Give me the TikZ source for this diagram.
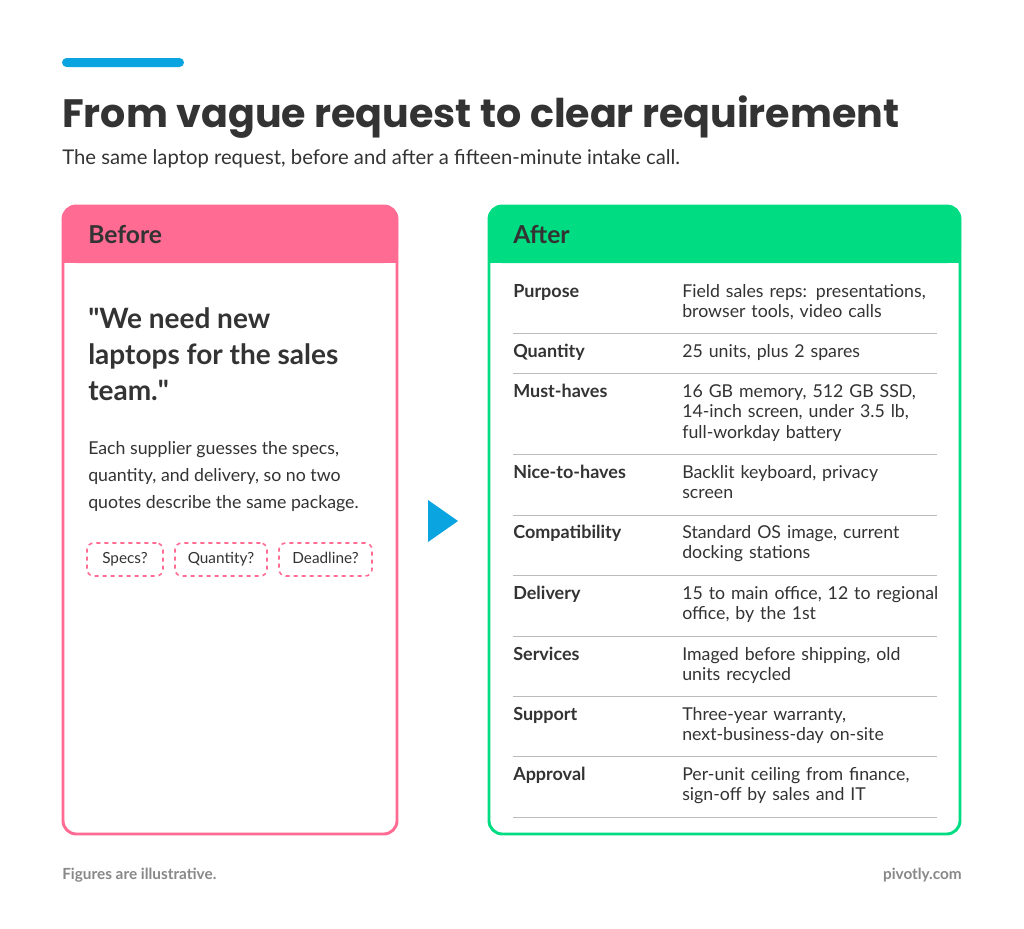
\documentclass[tikz,border=0pt]{standalone}
\usepackage{fontspec}
\setmainfont{Lato}
\newfontfamily\qfont{Lato}[Ligatures=ResetAll]
\newfontfamily\titlefont{Poppins}
\definecolor{ink}{HTML}{333333}
\definecolor{blueb}{HTML}{0AA5E0}
\definecolor{pinkb}{HTML}{FF6B93}
\definecolor{greenb}{HTML}{00DC82}
\definecolor{grayt}{HTML}{888888}
\definecolor{rule}{HTML}{BBBBBB}
\begin{document}
\begin{tikzpicture}[x=0.75pt,y=-0.75pt,
  lab/.style={anchor=north west,inner sep=0,text=ink,font=\fontsize{13.5}{15.4}\selectfont\bfseries},
  val/.style={anchor=north west,inner sep=0,text=ink,font=\fontsize{13.3}{15.4}\selectfont,align=left,text width=300},
  tag/.style={draw=pinkb,dashed,line width=1.2pt,rounded corners=5pt,text=ink,font=\fontsize{11.5}{12}\selectfont,minimum height=33*0.75pt,inner sep=0},
  sep/.style={draw=rule,line width=0.75pt}]
\useasboundingbox (0,0) rectangle (1024,928);
\fill[white] (0,0) rectangle (1024,928);
\fill[blueb,rounded corners=3.4pt] (62,58) rectangle (184,67);
\node[anchor=base west,inner sep=0,text=ink,font=\titlefont\fontsize{29.7}{32}\selectfont\bfseries] (title) at (62,127) {From vague request to clear requirement};
\node[anchor=base west,inner sep=0,text=ink,font=\fontsize{15.2}{16}\selectfont] (sub) at (62,164) {The same laptop request, before and after a fifteen-minute intake call.};
% Before
\fill[pinkb,rounded corners=10pt] (62,205) rectangle (398,263);
\fill[pinkb] (62,245) rectangle (398,263);
\draw[pinkb,line width=2.2pt,rounded corners=10pt] (63,206) rectangle (397,834);
\node[anchor=west,inner sep=0,text=ink,font=\fontsize{18.5}{18}\selectfont\bfseries] (bh) at (88,235) {Before};
\node[anchor=north west,inner sep=0,text=ink,font=\fontsize{21}{27}\selectfont\bfseries,align=left] (quote) at (88,307) {{\qfont\bfseries"}We need new\\laptops for the sales\\team.{\qfont\bfseries"}};
\node[anchor=north west,inner sep=0,text=ink,font=\fontsize{13.3}{20.3}\selectfont,align=left] (para) at (88,441) {Each supplier guesses the specs,\\quantity, and delivery, so no two\\quotes describe the same package.};
\node[tag,minimum width=76*0.75pt] (t1) at (125,559.5) {Specs?\vphantom{Qy}};
\node[tag,minimum width=92*0.75pt] (t2) at (221,559.5) {Quantity?};
\node[tag,minimum width=93*0.75pt] (t3) at (325.5,559.5) {Deadline?\vphantom{Qy}};
% arrow
\fill[blueb] (428,500) -- (458,521) -- (428,542) -- cycle;
% After
\fill[greenb,rounded corners=10pt] (488,205) rectangle (961,263);
\fill[greenb] (488,245) rectangle (961,263);
\draw[greenb,line width=2.2pt,rounded corners=10pt] (489,206) rectangle (960,834);
\node[anchor=west,inner sep=0,text=ink,font=\fontsize{18.5}{18}\selectfont\bfseries] (ah) at (513,235) {After};
\foreach \y/\l/\v in {
 284/Purpose/{Field sales reps: presentations,\\browser tools, video calls},
 344/Quantity/{25 units, plus 2 spares},
 384/Must-haves/{16 GB memory, 512 GB SSD,\\14-inch screen, under 3.5 lb,\\full-workday battery},
 465/Nice-to-haves/{Backlit keyboard, privacy\\screen},
 525/Compatibility/{Standard OS image, current\\docking stations},
 586/Delivery/{15 to main office, 12 to regional\\office, by the 1st},
 647/Services/{Imaged before shipping, old\\units recycled},
 707/Support/{Three-year warranty,\\next-business-day on-site},
 767/Approval/{Per-unit ceiling from finance,\\sign-off by sales and IT}}
{\node[lab] at (513,\y) {\l}; \node[val] at (682,\y) {\v};}
\foreach \y in {333,373,454,515,575,636,696,756,817}
  \draw[sep] (513,\y) -- (937,\y);
\node[anchor=base west,inner sep=0,text=grayt,font=\fontsize{11.5}{12}\selectfont\bfseries] (f1) at (62,879) {Figures are illustrative.};
\node[anchor=base east,inner sep=0,text=grayt,font=\fontsize{11.5}{12}\selectfont\bfseries] (f2) at (962,879) {pivotly.com};
\end{tikzpicture}
\end{document}
